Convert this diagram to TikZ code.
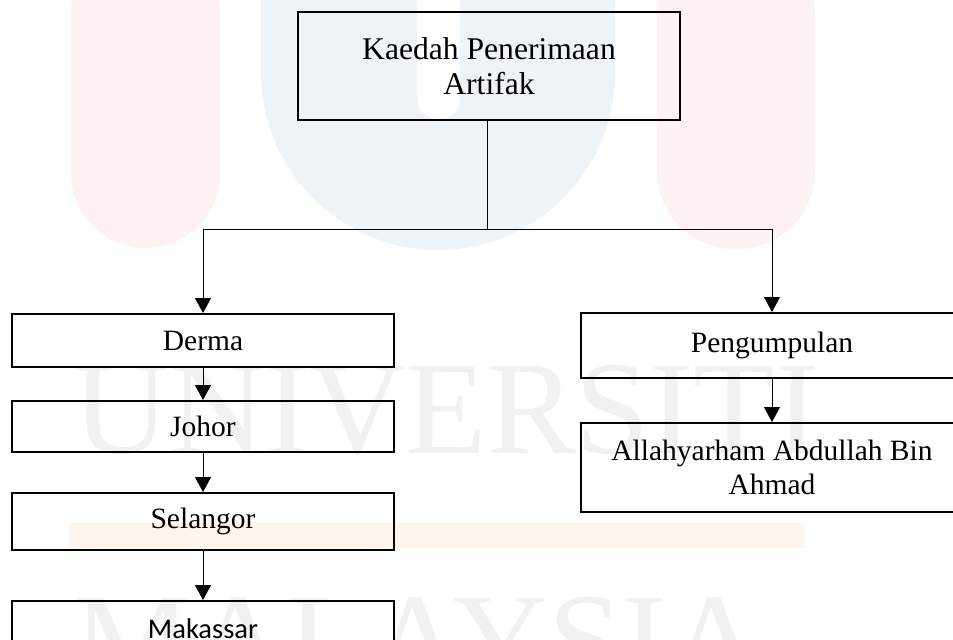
\documentclass[tikz,border=0pt]{standalone}
\usepackage{fontspec}
\setmainfont{Liberation Serif}
\newfontfamily\calibrifont{Carlito}
\usepackage{tikz}
\usetikzlibrary{arrows.meta, positioning}
\definecolor{wmred}{HTML}{FDF1F1}
\definecolor{wmblue}{HTML}{EEF3F8}
\definecolor{wmorange}{HTML}{FEF6EE}
\definecolor{wmgrey}{HTML}{F1F1F1}

\begin{document}
\begin{tikzpicture}[x=0.5pt, y=0.5pt, node distance=16pt,
		font=\fontsize{14.75}{17.25}\selectfont,
		box/.style={draw, line width=1pt, rectangle, inner sep=0pt, minimum width=191pt, align=center},
		arr/.style={-{Triangle[width=8pt, length=7.5pt]}, line width=0.5pt}]
		
		\useasboundingbox (0,0) rectangle (953,639);
		\clip (0,0) rectangle (953,639);
		\fill[white] (0,0) rectangle (953,639);
		
		% Watermark
		\fill[wmred, rounded corners=37pt] (71,391) rectangle (220,700);
		\fill[wmred, rounded corners=39pt] (657,390) rectangle (815,700);
		\fill[wmblue] (261,700) -- (261,566) arc[start angle=180, end angle=360, radius=88.5pt] -- (615,700) -- cycle;
		\fill[white] (417,700) -- (417,541) arc[start angle=180, end angle=360, radius=10.75pt] -- (460,700) -- cycle;
		\fill[wmorange] (70,91) rectangle (805,116);
		\node[wmgrey, font=\fontsize{66.5}{70}\selectfont, inner sep=0pt, anchor=base west] (wmuni) at (73,186) {UNIVERSITI};
		\node[wmgrey, font=\fontsize{66.5}{70}\selectfont, inner sep=0pt, anchor=base west] (wmmal) at (73,-46) {MALAYSIA};
		
		% Nodes
		\node[box, minimum height=54pt, font=\fontsize{15.8}{17.5}\selectfont] (kaedah) at (489,573) {Kaedah Penerimaan\\Artifak};
		
		\node[box, minimum height=26.5pt] (derma) at (203,298.5) {Derma};
		\node[box, minimum height=25.5pt, below=16pt of derma] (johor) {Johor};
		\node[box, minimum height=28.5pt, below=19.5pt of johor] (selangor) {Selangor};
		\node[box, minimum height=27.5pt, below=24.5pt of selangor,
			font=\calibrifont\fontsize{14.25}{17}\selectfont] (makassar) {Makassar};
		
		\node[box, minimum height=32.5pt] (pengumpulan) at (772,293.5) {Pengumpulan};
		\node[box, minimum height=44.5pt, below=21.5pt of pengumpulan] (allah) {Allahyarham Abdullah Bin\\Ahmad};
		
		% Arrows
		\draw[line width=0.5pt] (kaedah.south) ++(-2,0) -- ++(0,-108) coordinate (fork);
		\draw[arr] (fork) -| (derma.north);
		\draw[arr] (fork) -| (pengumpulan.north);
		\draw[arr] (derma) -- (johor);
		\draw[arr] (johor) -- (selangor);
		\draw[arr] (selangor) -- (makassar);
		\draw[arr] (pengumpulan) -- (allah);
		
\end{tikzpicture}
\end{document}
